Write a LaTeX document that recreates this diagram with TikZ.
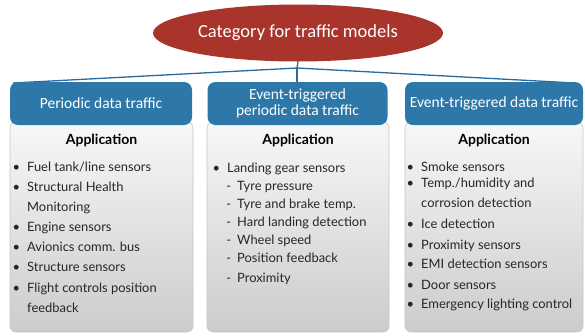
\documentclass[tikz,border=0pt]{standalone}
\usepackage{fontspec}
\setmainfont{Carlito}
\newfontfamily\bodyfont{Lato}
\usetikzlibrary{shapes.geometric}

\definecolor{catred}{HTML}{A9342C}
\definecolor{headblue}{HTML}{2E78A9}
\definecolor{linkblue}{HTML}{2A6A9C}

\newcommand{\bl}{\llap{\textbullet\hspace{7pt}}}
\newcommand{\ds}{\llap{-\hspace{6pt}}}

\tikzset{
  catnode/.style={ellipse, fill=catred, text=white, inner sep=0pt,
    minimum width=290pt, minimum height=57pt, font=\fontsize{18.5}{22}\selectfont},
  headbox/.style={rounded corners=8pt, fill=headblue, text=white, align=center,
    inner sep=0pt, minimum height=43pt, font=\fontsize{15.5}{16.5}\selectfont},
  appbox/.style={rounded corners=6pt, top color=gray!6, bottom color=gray!40,
    draw=gray!45, line width=0.6pt},
  apptitle/.style={anchor=base, inner sep=0pt, font=\bodyfont\bfseries\fontsize{14}{16}\selectfont},
  itemtext/.style={anchor=base west, inner sep=0pt, text=black!85,
    font=\bodyfont\fontsize{12.9}{15}\selectfont},
  link/.style={linkblue, line width=1.3pt},
}

\begin{document}
\begin{tikzpicture}[x=1pt,y=-1pt]
  \useasboundingbox (0,0) rectangle (585,335);

  % Application panels
  \draw[appbox] (10,122) rectangle (193,332);
  \draw[appbox] (207,122) rectangle (389,332);
  \draw[appbox] (405,122) rectangle (583,332);

  % Category and headers
  \node[catnode] (cat) at (298,33) {Category for traffic models};
  \coordinate (jn) at (297,68);

  \draw[link] (cat.south) -- (jn);
  \draw[link] (jn) -- (13,83);
  \draw[link] (jn) -- (297,83);
  \draw[link] (jn) -- (575,83);

  \node[headbox, minimum width=182pt] (hL) at (101,103.5) {Periodic data traffic};
  \node[headbox, minimum width=180pt] (hM) at (297.5,103.5) {Event-triggered\\periodic data traffic};
  \node[headbox, minimum width=178pt] (hR) at (494,103.5) {Event-triggered data traffic};

  % Titles
  \node[apptitle] (tL) at (101.5,144) {Application};
  \node[apptitle] (tM) at (298,144) {Application};
  \node[apptitle] (tR) at (494,144) {Application};

  % Periodic items
  \foreach \y/\txt [count=\i] in {171/{\bl Fuel tank/line sensors},
      191/{\bl Structural Health}, 211/{Monitoring},
      231/{\bl Engine sensors}, 251/{\bl Avionics comm. bus},
      271/{\bl Structure sensors}, 292/{\bl Flight controls position},
      312/{feedback}}
    \node[itemtext] (iL\i) at (27,\y) {\txt};

  % Event-triggered periodic items
  \node[itemtext] (iM1) at (227,172) {\bl Landing gear sensors};
  \foreach \y/\txt [count=\i from 2] in {190/{Tyre pressure},
      208/{Tyre and brake temp.}, 226/{Hard landing detection},
      244/{Wheel speed}, 262/{Position feedback}, 282/{Proximity}}
    \node[itemtext] (iM\i) at (237,\y) {\ds\txt};

  % Event-triggered items
  \foreach \y/\txt [count=\i] in {171/{\bl Smoke sensors},
      187/{\bl Temp./humidity and}, 207/{corrosion detection},
      228/{\bl Ice detection}, 249/{\bl Proximity sensors},
      268/{\bl EMI detection sensors}, 289/{\bl Door sensors},
      308/{\bl Emergency lighting control}}
    \node[itemtext] (iR\i) at (421,\y) {\txt};
\end{tikzpicture}
\end{document}
